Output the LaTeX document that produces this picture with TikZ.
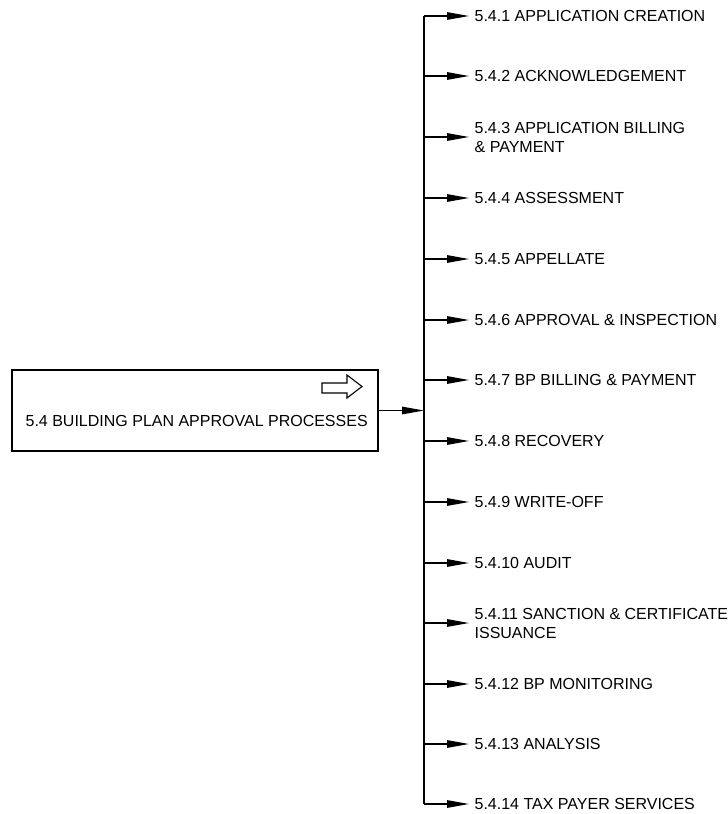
\documentclass[tikz,border=0pt]{standalone}
\usepackage{fontspec}
\setmainfont{Liberation Sans}
\usetikzlibrary{arrows.meta}
\begin{document}
\begin{tikzpicture}[x=1pt,y=-1pt,
  line width=1.3pt,
  item/.style={anchor=west,inner xsep=5pt,inner ysep=0pt,align=left,font=\fontsize{16}{19}\selectfont},
  tip/.style={-{Triangle[length=22pt,width=7.5pt]}}]
\useasboundingbox (0,0) rectangle (728,814);
\node[draw,line width=1.2pt,minimum width=366pt,minimum height=81pt,inner sep=0pt] (box) at (195,410.5) {};
\node[anchor=west,inner sep=0pt,font=\fontsize{16}{19}\selectfont] (boxtxt) at (25,421) {5.4 BUILDING PLAN APPROVAL PROCESSES};
\draw[line width=1.1pt] (322,383) -- (347,383) -- (347,375) -- (362,386.5) -- (347,398) -- (347,393) -- (322,393) -- cycle;
\coordinate (btop) at (424,16);
\coordinate (bbot) at (424,804);
\coordinate (bmid) at (424,410.5);
\draw (btop) -- (bbot);
\draw[tip] (box.east) -- (bmid);
\foreach \n/\y/\t in {1/16/{5.4.1 APPLICATION CREATION},
  2/76/{5.4.2 ACKNOWLEDGEMENT},
  3/137/{5.4.3 APPLICATION BILLING\\\& PAYMENT},
  4/198/{5.4.4 ASSESSMENT},
  5/259/{5.4.5 APPELLATE},
  6/320/{5.4.6 APPROVAL \& INSPECTION},
  7/380/{5.4.7 BP BILLING \& PAYMENT},
  8/441/{5.4.8 RECOVERY},
  9/502/{5.4.9 WRITE-OFF},
  10/563/{5.4.10 AUDIT},
  11/623/{5.4.11 SANCTION \& CERTIFICATE\\ISSUANCE},
  12/684/{5.4.12 BP MONITORING},
  13/744/{5.4.13 ANALYSIS},
  14/804/{5.4.14 TAX PAYER SERVICES}}{
  \node[item] (i\n) at (469,\y) {\t};
  \draw[tip] (424,\y) -- (i\n.west);
}
\end{tikzpicture}
\end{document}
